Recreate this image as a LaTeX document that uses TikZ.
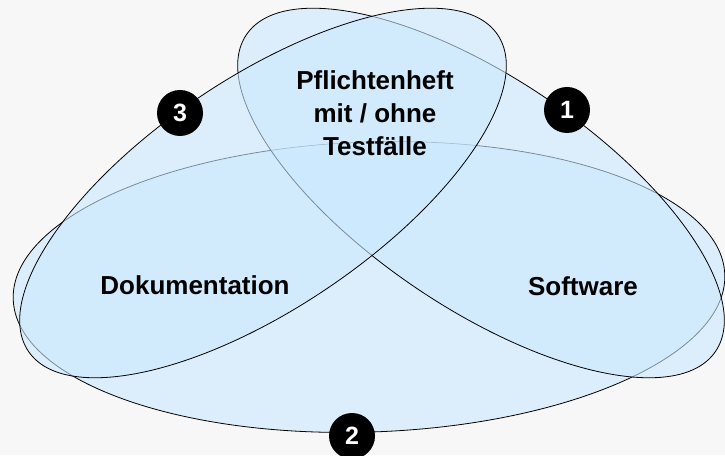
\documentclass[tikz,border=0pt]{standalone}
\usepackage{fontspec}
\setmainfont{Liberation Sans}
\usetikzlibrary{positioning}

\definecolor{bggray}{HTML}{F7F7F7}
\definecolor{setblue}{HTML}{CBE9FF}

\begin{document}
\begin{tikzpicture}[
            x=1pt, y=1pt,
            % Style for the three overlapping sets
            set/.style={fill=setblue, fill opacity=0.6, draw=black, line width=0.8pt},
            % Style for the labels inside the sets
            label/.style={font=\fontsize{26}{33}\selectfont\bfseries, align=center},
            % Style for the black numbered discs
            num/.style={circle, fill=black, text=white, minimum size=46, inner sep=0,
                        font=\fontsize{25}{25}\selectfont\bfseries}
        ]

        % --- Background and page size ---
        \fill[bggray] (0,0) rectangle (725,455);
        \useasboundingbox (0,0) rectangle (725,455);

        % --- The three sets (order matters: later fills dim earlier lines) ---
        \draw[set, rotate around={2:(369,168)}] (369,168) ellipse [x radius=356, y radius=145];
        \draw[set, rotate around={-34:(481,262)}] (481,262) ellipse [x radius=283, y radius=115];
        \draw[set, rotate around={34:(263,262)}] (263,262) ellipse [x radius=283, y radius=115];

        % --- Labels of the sets ---
        \node[label] (spec) at (375,342) {Pflichtenheft\\mit / ohne\\Testfälle};
        \node[label] (doku) at (195,170) {Dokumentation};
        \node[label] (soft) at (583,169) {Software};

        % --- Numbers on the outlines ---
        \node[num] (n1) at (567,345) {1};
        \node[num] (n2) at (352,19) {2};
        \node[num] (n3) at (180,342) {3};

        \end{tikzpicture}
\end{document}
